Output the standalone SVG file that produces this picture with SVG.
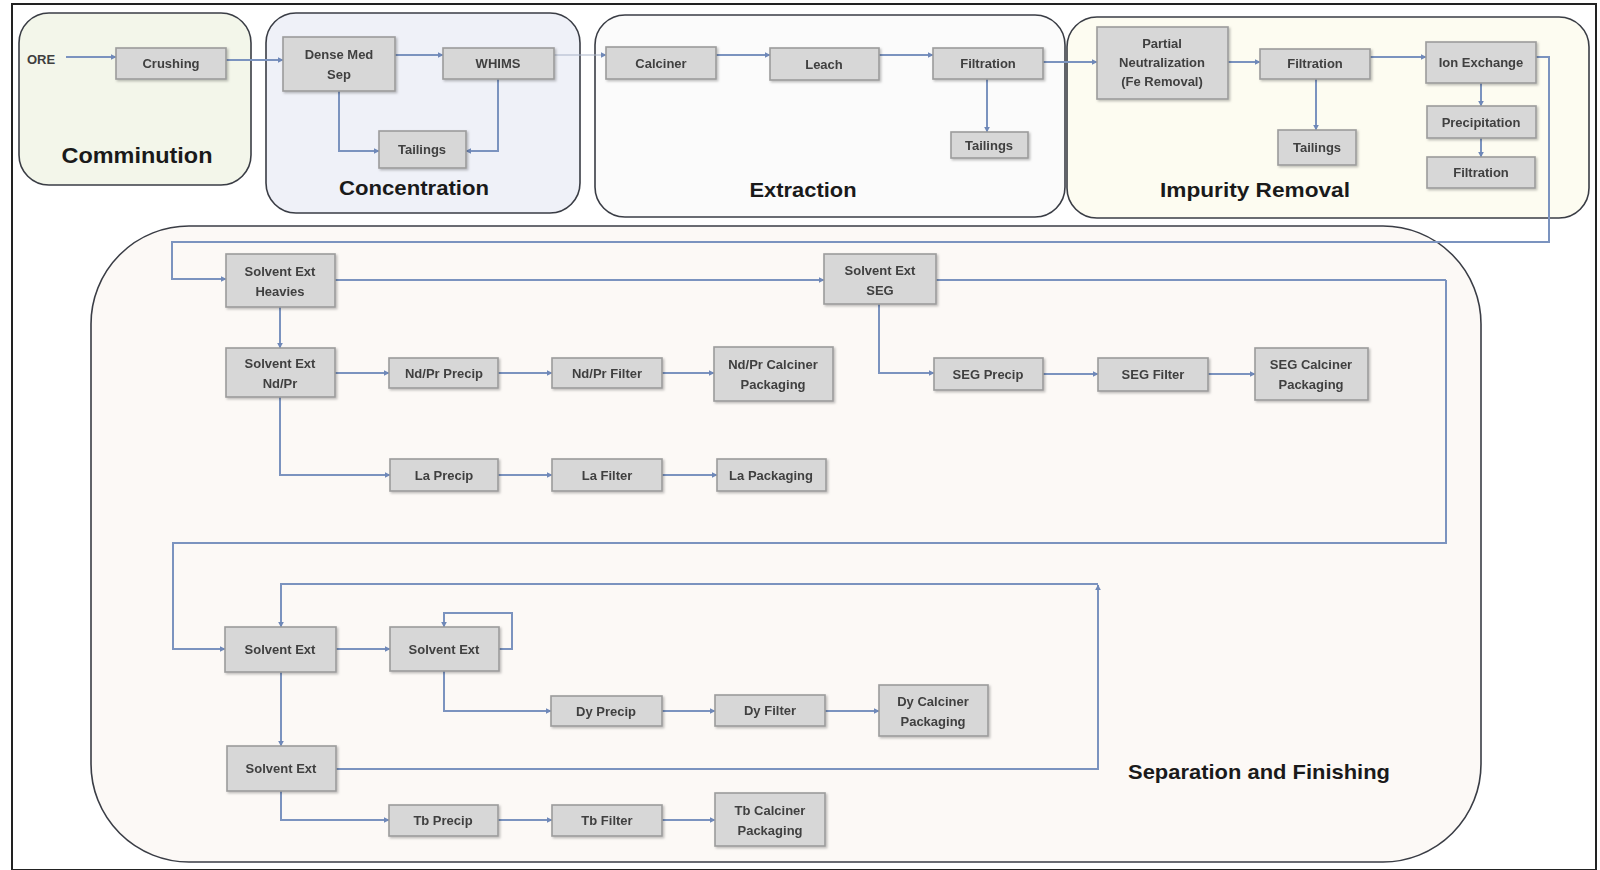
<svg xmlns="http://www.w3.org/2000/svg" width="1600" height="870" viewBox="0 0 1600 870">
<style>
.frame{fill:#ffffff;stroke:#222;stroke-width:2}
.sec{stroke:#3a3d45;stroke-width:1.6}
.node{fill:#d7d7d7;stroke:#9c9c9c;stroke-width:1.6}
.nt{font-family:"Liberation Sans",Arial,sans-serif;font-weight:bold;font-size:13px;fill:#3f3f3f;text-anchor:middle}
.st{font-family:"Liberation Sans",Arial,sans-serif;font-weight:bold;fill:#1a1a1a;text-anchor:middle}
.c{fill:none;stroke:#7b93bf;stroke-width:2;marker-end:url(#ah)}
.cf{fill:none;stroke:#aab4c8;stroke-width:1.2;marker-end:url(#ah)}
.cn{fill:none;stroke:#7b93bf;stroke-width:2}
</style>
<defs>
<marker id="ah" viewBox="0 0 10 10" refX="9" refY="5" markerWidth="6" markerHeight="6" markerUnits="userSpaceOnUse" orient="auto">
<path d="M0,0 L10,5 L0,10 z" fill="#6f88b8"/>
</marker>
<filter id="sh" x="-10%" y="-10%" width="130%" height="140%">
<feDropShadow dx="1.5" dy="1.5" stdDeviation="1" flood-color="#000" flood-opacity="0.25"/>
</filter>
</defs>
<rect width="1600" height="870" fill="#ffffff"/>
<rect class="frame" x="12" y="4" width="1584" height="866"/>

<g id="sec-comminution"><rect class="sec" x="19" y="13" width="232" height="172" rx="30" fill="#f3f6ea"/>
<text class="st" x="137" y="163" font-size="22" textLength="151" lengthAdjust="spacingAndGlyphs">Comminution</text></g>
<g id="sec-concentration"><rect class="sec" x="266" y="13" width="314" height="200" rx="30" fill="#eff1f8"/>
<text class="st" x="414" y="195" font-size="21" textLength="150" lengthAdjust="spacingAndGlyphs">Concentration</text></g>
<g id="sec-extraction"><rect class="sec" x="595" y="15" width="470" height="202" rx="30" fill="#fbfbfb"/>
<text class="st" x="803" y="197" font-size="21" textLength="107" lengthAdjust="spacingAndGlyphs">Extraction</text></g>
<g id="sec-impurity"><rect class="sec" x="1067" y="17" width="522" height="201" rx="30" fill="#fdfcf1"/>
<text class="st" x="1255" y="197" font-size="21" textLength="190" lengthAdjust="spacingAndGlyphs">Impurity Removal</text></g>
<g id="sec-separation"><rect class="sec" x="91" y="226" width="1390" height="636" rx="98" fill="#fcf9f6"/>
<text class="st" x="1259" y="779" font-size="21" textLength="262" lengthAdjust="spacingAndGlyphs">Separation and Finishing</text></g>

<g id="connectors">
<path class="c" d="M66 57 H116"/>
<path class="c" d="M226 60 H283"/>
<path class="c" d="M395 55 H443"/>
<path class="c" d="M339 91 V151 H379"/>
<path class="c" d="M498 79 V151 H466"/>
<path class="cf" d="M554 55 H606"/>
<path class="c" d="M716 55 H770"/>
<path class="c" d="M879 55 H933"/>
<path class="c" d="M987 79 V132"/>
<path class="c" d="M1043 62 H1097"/>
<path class="c" d="M1228 62 H1260"/>
<path class="c" d="M1316 79 V130"/>
<path class="c" d="M1370 57 H1426"/>
<path class="c" d="M1481 83 V106"/>
<path class="c" d="M1481 138 V157"/>
<path class="c" d="M1536 57 H1549 V242 H172 V279 H226"/>
<path class="c" d="M335 280 H824"/>
<path class="c" d="M280 307 V348"/>
<path class="c" d="M335 373 H389"/>
<path class="c" d="M498 373 H552"/>
<path class="c" d="M662 373 H714"/>
<path class="c" d="M280 397 V475 H390"/>
<path class="c" d="M498 475 H552"/>
<path class="c" d="M662 475 H717"/>
<path class="c" d="M879 304 V373 H934"/>
<path class="c" d="M1043 374 H1098"/>
<path class="c" d="M1208 374 H1255"/>
<path class="cn" d="M936 280 H1446"/>
<path class="c" d="M1446 280 V543 H173 V649 H225"/>
<path class="c" d="M336 649 H390"/>
<path class="c" d="M499 649 H512 V613 H444 V627"/>
<path class="c" d="M281 672 V746"/>
<path class="c" d="M444 671 V711 H551"/>
<path class="c" d="M662 711 H715"/>
<path class="c" d="M825 711 H879"/>
<path class="c" d="M336 769 H1098 V585"/>
<path class="c" d="M1098 584 H281 V627"/>
<path class="c" d="M281 791 V820 H389"/>
<path class="c" d="M498 820 H552"/>
<path class="c" d="M662 820 H715"/>
</g>

<text class="nt" x="41" y="64" font-size="12">ORE</text>

<g id="n-crushing" filter="url(#sh)"><rect class="node" x="116" y="48" width="110" height="31"/><text class="nt" x="171" y="68">Crushing</text></g>
<g id="n-dms" filter="url(#sh)"><rect class="node" x="283" y="37" width="112" height="54"/><text class="nt" x="339" y="59">Dense Med</text><text class="nt" x="339" y="79">Sep</text></g>
<g id="n-whims" filter="url(#sh)"><rect class="node" x="443" y="48" width="111" height="31"/><text class="nt" x="498" y="68">WHIMS</text></g>
<g id="n-tail1" filter="url(#sh)"><rect class="node" x="379" y="131" width="87" height="37"/><text class="nt" x="422" y="154">Tailings</text></g>

<g id="n-calciner" filter="url(#sh)"><rect class="node" x="606" y="47" width="110" height="32"/><text class="nt" x="661" y="68">Calciner</text></g>
<g id="n-leach" filter="url(#sh)"><rect class="node" x="770" y="48" width="109" height="32"/><text class="nt" x="824" y="69">Leach</text></g>
<g id="n-filt1" filter="url(#sh)"><rect class="node" x="933" y="48" width="110" height="31"/><text class="nt" x="988" y="68">Filtration</text></g>
<g id="n-tail2" filter="url(#sh)"><rect class="node" x="951" y="132" width="77" height="26"/><text class="nt" x="989" y="150">Tailings</text></g>

<g id="n-partial" filter="url(#sh)"><rect class="node" x="1097" y="27" width="131" height="72"/><text class="nt" x="1162" y="48">Partial</text><text class="nt" x="1162" y="67">Neutralization</text><text class="nt" x="1162" y="86">(Fe Removal)</text></g>
<g id="n-filt2" filter="url(#sh)"><rect class="node" x="1260" y="49" width="110" height="30"/><text class="nt" x="1315" y="68">Filtration</text></g>
<g id="n-tail3" filter="url(#sh)"><rect class="node" x="1278" y="130" width="78" height="35"/><text class="nt" x="1317" y="152">Tailings</text></g>
<g id="n-ion" filter="url(#sh)"><rect class="node" x="1426" y="42" width="110" height="41"/><text class="nt" x="1481" y="67">Ion Exchange</text></g>
<g id="n-precip" filter="url(#sh)"><rect class="node" x="1427" y="106" width="109" height="32"/><text class="nt" x="1481" y="127">Precipitation</text></g>
<g id="n-filt3" filter="url(#sh)"><rect class="node" x="1427" y="157" width="108" height="31"/><text class="nt" x="1481" y="177">Filtration</text></g>

<g id="n-sxh" filter="url(#sh)"><rect class="node" x="226" y="254" width="109" height="53"/><text class="nt" x="280" y="276">Solvent Ext</text><text class="nt" x="280" y="296">Heavies</text></g>
<g id="n-sxseg" filter="url(#sh)"><rect class="node" x="824" y="254" width="112" height="50"/><text class="nt" x="880" y="275">Solvent Ext</text><text class="nt" x="880" y="295">SEG</text></g>
<g id="n-sxndpr" filter="url(#sh)"><rect class="node" x="226" y="348" width="109" height="49"/><text class="nt" x="280" y="368">Solvent Ext</text><text class="nt" x="280" y="388">Nd/Pr</text></g>
<g id="n-ndprprecip" filter="url(#sh)"><rect class="node" x="389" y="358" width="109" height="30"/><text class="nt" x="444" y="378">Nd/Pr Precip</text></g>
<g id="n-ndprfilter" filter="url(#sh)"><rect class="node" x="552" y="358" width="110" height="30"/><text class="nt" x="607" y="378">Nd/Pr Filter</text></g>
<g id="n-ndprcalc" filter="url(#sh)"><rect class="node" x="714" y="347" width="119" height="54"/><text class="nt" x="773" y="369">Nd/Pr Calciner</text><text class="nt" x="773" y="389">Packaging</text></g>
<g id="n-segprecip" filter="url(#sh)"><rect class="node" x="934" y="358" width="109" height="32"/><text class="nt" x="988" y="379">SEG Precip</text></g>
<g id="n-segfilter" filter="url(#sh)"><rect class="node" x="1098" y="358" width="110" height="33"/><text class="nt" x="1153" y="379">SEG Filter</text></g>
<g id="n-segcalc" filter="url(#sh)"><rect class="node" x="1255" y="348" width="113" height="52"/><text class="nt" x="1311" y="369">SEG Calciner</text><text class="nt" x="1311" y="389">Packaging</text></g>
<g id="n-laprecip" filter="url(#sh)"><rect class="node" x="390" y="459" width="108" height="32"/><text class="nt" x="444" y="480">La Precip</text></g>
<g id="n-lafilter" filter="url(#sh)"><rect class="node" x="552" y="459" width="110" height="32"/><text class="nt" x="607" y="480">La Filter</text></g>
<g id="n-lapack" filter="url(#sh)"><rect class="node" x="717" y="459" width="109" height="32"/><text class="nt" x="771" y="480">La Packaging</text></g>

<g id="n-sx1" filter="url(#sh)"><rect class="node" x="225" y="627" width="111" height="45"/><text class="nt" x="280" y="654">Solvent Ext</text></g>
<g id="n-sx2" filter="url(#sh)"><rect class="node" x="390" y="627" width="109" height="44"/><text class="nt" x="444" y="654">Solvent Ext</text></g>
<g id="n-dyprecip" filter="url(#sh)"><rect class="node" x="551" y="696" width="111" height="30"/><text class="nt" x="606" y="716">Dy Precip</text></g>
<g id="n-dyfilter" filter="url(#sh)"><rect class="node" x="715" y="695" width="110" height="31"/><text class="nt" x="770" y="715">Dy Filter</text></g>
<g id="n-dycalc" filter="url(#sh)"><rect class="node" x="879" y="685" width="109" height="51"/><text class="nt" x="933" y="706">Dy Calciner</text><text class="nt" x="933" y="726">Packaging</text></g>
<g id="n-sx3" filter="url(#sh)"><rect class="node" x="227" y="746" width="109" height="45"/><text class="nt" x="281" y="773">Solvent Ext</text></g>
<g id="n-tbprecip" filter="url(#sh)"><rect class="node" x="389" y="805" width="109" height="31"/><text class="nt" x="443" y="825">Tb Precip</text></g>
<g id="n-tbfilter" filter="url(#sh)"><rect class="node" x="552" y="805" width="110" height="31"/><text class="nt" x="607" y="825">Tb Filter</text></g>
<g id="n-tbcalc" filter="url(#sh)"><rect class="node" x="715" y="793" width="110" height="53"/><text class="nt" x="770" y="815">Tb Calciner</text><text class="nt" x="770" y="835">Packaging</text></g>
</svg>
